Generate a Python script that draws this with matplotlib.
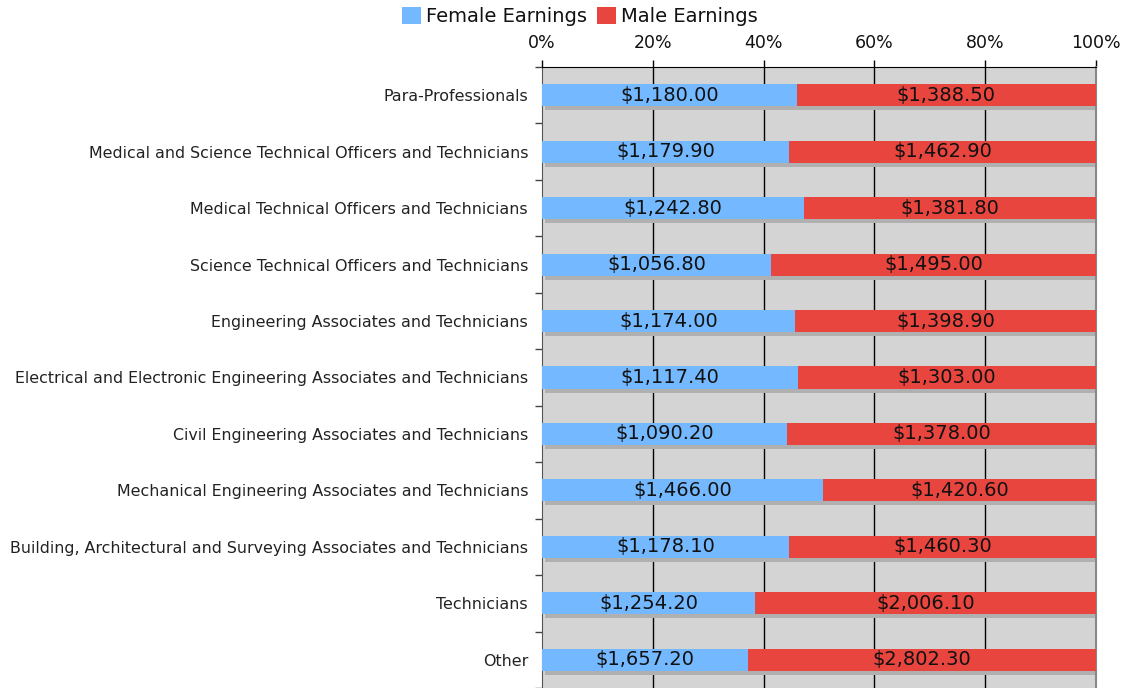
import matplotlib
matplotlib.use("Agg")
import matplotlib.pyplot as plt
import matplotlib.transforms as mtransforms
import numpy as np

categories = [
    "Para-Professionals",
    "Medical and Science Technical Officers and Technicians",
    "Medical Technical Officers and Technicians",
    "Science Technical Officers and Technicians",
    "Engineering Associates and Technicians",
    "Electrical and Electronic Engineering Associates and Technicians",
    "Civil Engineering Associates and Technicians",
    "Mechanical Engineering Associates and Technicians",
    "Building, Architectural and Surveying Associates and Technicians",
    "Technicians",
    "Other",
]
female = [1180.00, 1179.90, 1242.80, 1056.80, 1174.00, 1117.40, 1090.20, 1466.00, 1178.10, 1254.20, 1657.20]
male = [1388.50, 1462.90, 1381.80, 1495.00, 1398.90, 1303.00, 1378.00, 1420.60, 1460.30, 2006.10, 2802.30]
x_ticks = [0, 20, 40, 60, 80, 100]
x_tick_labels = ["0%", "20%", "40%", "60%", "80%", "100%"]
series_names = ["Female Earnings", "Male Earnings"]

plt.rcParams['font.family'] = ['DejaVu Sans']

W, H = 1128, 688
fig = plt.figure(figsize=(W / 100, H / 100), dpi=100)
ax = fig.add_axes([542 / W, 0, (1096 - 542) / W, 1 - 67 / H])

blue = "#74b9ff"
red = "#e8453f"
ax.set_facecolor("#d4d4d4")

f = np.array(female)
m = np.array(male)
tot = f + m
fp = f / tot * 100
mp = m / tot * 100
y = np.arange(len(categories))
h = 0.39

shadow_tr = mtransforms.offset_copy(ax.transData, fig=fig, x=3, y=-4, units='dots')
ax.barh(y, fp, height=h, color="#b0b0b0", transform=shadow_tr, zorder=2)
ax.barh(y, mp, left=fp, height=h, color="#b0b0b0", transform=shadow_tr, zorder=2)

ax.barh(y, fp, height=h, color=blue, label=series_names[0], zorder=3)
ax.barh(y, mp, left=fp, height=h, color=red, label=series_names[1], zorder=3)

for i in range(len(categories)):
    ax.text(fp[i] / 2, y[i], f"${female[i]:,.2f}", ha="center", va="center",
            fontsize=14, color="#111111", zorder=4)
    ax.text(fp[i] + mp[i] / 2, y[i], f"${male[i]:,.2f}", ha="center", va="center",
            fontsize=14, color="#111111", zorder=4)

ax.set_xlim(0, 100)
ax.set_ylim(len(categories) - 0.5, -0.5)

ax.xaxis.tick_top()
ax.set_xticks(x_ticks)
ax.set_xticklabels(x_tick_labels)
ax.tick_params(axis='x', length=5, width=1, labelsize=12.5, pad=6, color="black",
               labelcolor="#111111")
for xv in x_ticks[1:-1]:
    ax.axvline(xv, color="black", lw=1, zorder=1)

ax.set_yticks(y)
ax.set_yticklabels(categories)
ax.tick_params(axis='y', which='major', length=0, labelsize=11.4, pad=10,
               labelcolor="#222222")
ax.set_yticks(np.arange(len(categories) + 1) - 0.5, minor=True)
ax.tick_params(axis='y', which='minor', length=5, width=1, color="#444444")

ax.spines['top'].set_color("black")
ax.spines['left'].set_color("#555555")
ax.spines['right'].set_color("#888888")
ax.spines['right'].set_linewidth(1.5)
ax.spines['bottom'].set_visible(False)

leg = fig.legend(loc="upper center", bbox_to_anchor=(580 / W, 1 + 1 / H), ncol=2, frameon=False,
                 fontsize=14, handlelength=1.0, handleheight=1.0, handletextpad=0.25,
                 columnspacing=0.5, borderaxespad=0)
for t in leg.get_texts():
    t.set_color("#111111")

fig.savefig("out.png", dpi=100)
